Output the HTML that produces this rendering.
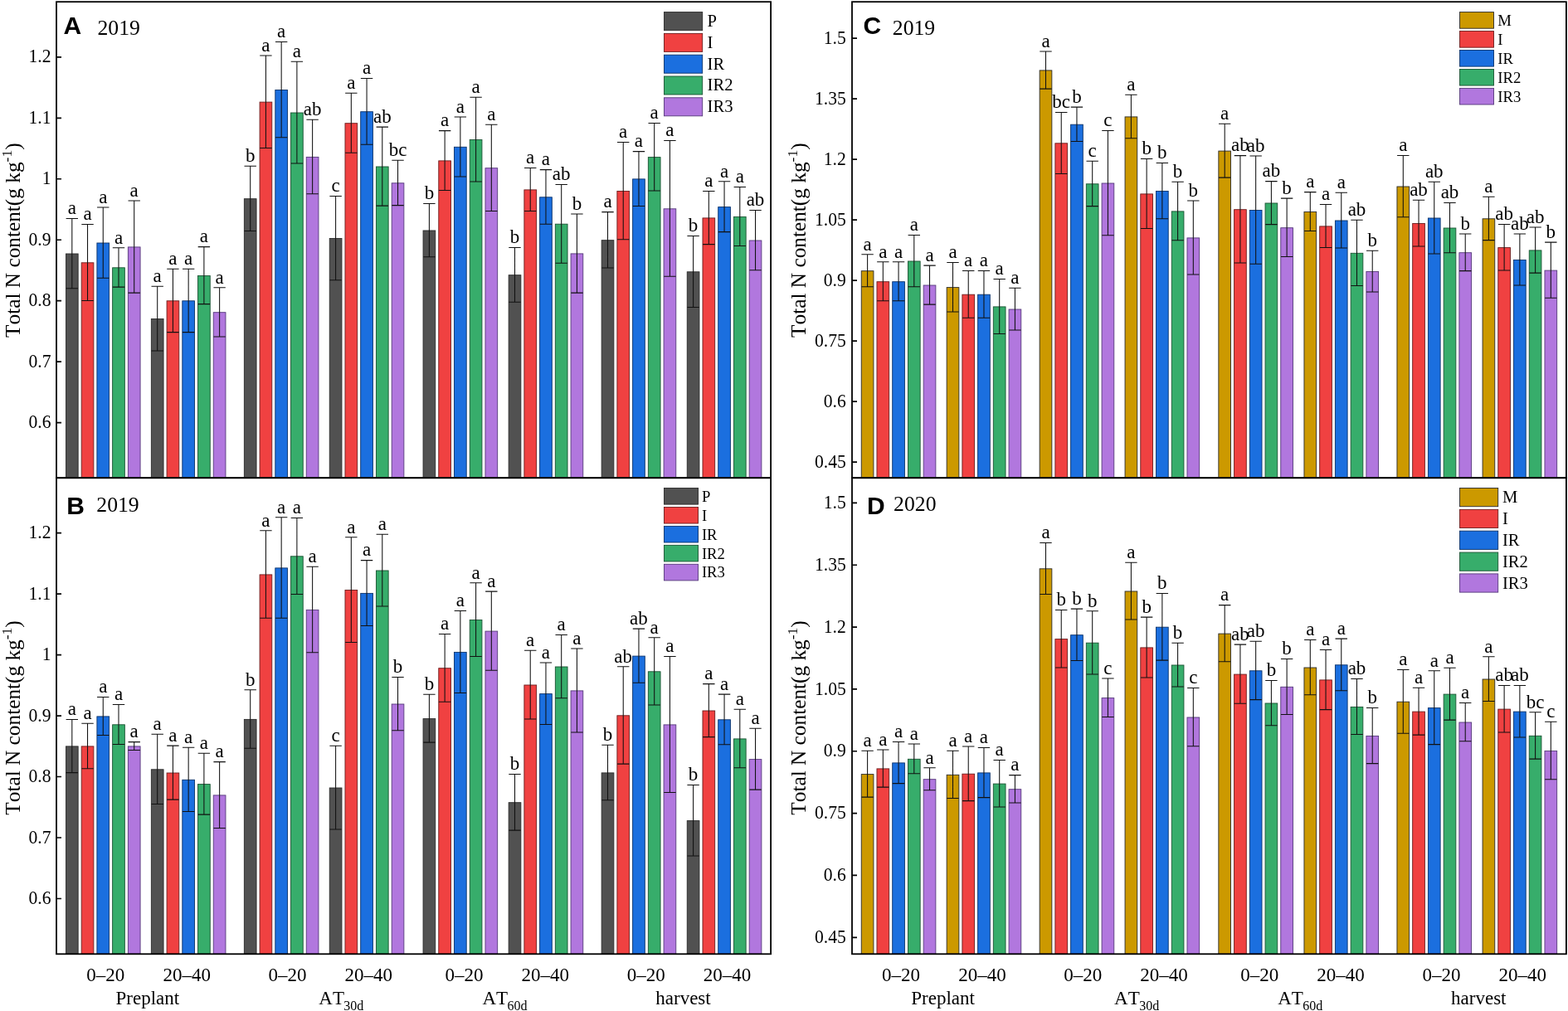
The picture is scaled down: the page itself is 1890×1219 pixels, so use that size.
<!DOCTYPE html>
<html><head><meta charset="utf-8"><title>Total N content</title><style>
html,body{margin:0;padding:0;background:#fff;}
svg{display:block;}
text{font-family:"Liberation Serif","Times New Roman",serif;fill:#000;font-kerning:none;}
.let text{font-size:23px;}
.tick text{font-size:23px;}
.xl text{font-size:23px;}
.leg text{font-family:"Liberation Serif",serif;}
.pl{font-family:"Liberation Sans",Arial,sans-serif;font-weight:bold;font-size:30px;}
.yr{font-size:25.7px;}
.yt{font-size:25.3px;}
</style></head>
<body><svg width="1890" height="1219" viewBox="0 0 1890 1219">
<rect width="1890" height="1219" fill="#fff"/>
<g stroke-width="0.9"><rect x="79.45" y="306" width="14.7" height="270.2" fill="#515151" stroke="#2a2a2a"/><rect x="98.18" y="316.8" width="14.7" height="259.4" fill="#F04141" stroke="#6b1d1d"/><rect x="116.91" y="293" width="14.7" height="283.2" fill="#1B6FDF" stroke="#0c3269"/><rect x="135.64" y="322.8" width="14.7" height="253.4" fill="#37AD6B" stroke="#1a5232"/><rect x="154.37" y="297.9" width="14.7" height="278.3" fill="#B177DE" stroke="#55397a"/><rect x="182.35" y="384.5" width="14.7" height="191.7" fill="#515151" stroke="#2a2a2a"/><rect x="201.08" y="362.8" width="14.7" height="213.4" fill="#F04141" stroke="#6b1d1d"/><rect x="219.81" y="362.8" width="14.7" height="213.4" fill="#1B6FDF" stroke="#0c3269"/><rect x="238.54" y="332.5" width="14.7" height="243.7" fill="#37AD6B" stroke="#1a5232"/><rect x="257.27" y="376.7" width="14.7" height="199.5" fill="#B177DE" stroke="#55397a"/><rect x="294.35" y="239.7" width="14.7" height="336.5" fill="#515151" stroke="#2a2a2a"/><rect x="313.08" y="123.1" width="14.7" height="453.1" fill="#F04141" stroke="#6b1d1d"/><rect x="331.81" y="108.5" width="14.7" height="467.7" fill="#1B6FDF" stroke="#0c3269"/><rect x="350.54" y="136" width="14.7" height="440.2" fill="#37AD6B" stroke="#1a5232"/><rect x="369.27" y="189.4" width="14.7" height="386.8" fill="#B177DE" stroke="#55397a"/><rect x="397.25" y="287.5" width="14.7" height="288.7" fill="#515151" stroke="#2a2a2a"/><rect x="415.98" y="148.7" width="14.7" height="427.5" fill="#F04141" stroke="#6b1d1d"/><rect x="434.71" y="134.7" width="14.7" height="441.5" fill="#1B6FDF" stroke="#0c3269"/><rect x="453.44" y="201" width="14.7" height="375.2" fill="#37AD6B" stroke="#1a5232"/><rect x="472.17" y="220.8" width="14.7" height="355.4" fill="#B177DE" stroke="#55397a"/><rect x="510.05" y="278" width="14.7" height="298.2" fill="#515151" stroke="#2a2a2a"/><rect x="528.78" y="193.9" width="14.7" height="382.3" fill="#F04141" stroke="#6b1d1d"/><rect x="547.51" y="177.3" width="14.7" height="398.9" fill="#1B6FDF" stroke="#0c3269"/><rect x="566.24" y="168.5" width="14.7" height="407.7" fill="#37AD6B" stroke="#1a5232"/><rect x="584.97" y="202.7" width="14.7" height="373.5" fill="#B177DE" stroke="#55397a"/><rect x="613.15" y="331.7" width="14.7" height="244.5" fill="#515151" stroke="#2a2a2a"/><rect x="631.88" y="228.9" width="14.7" height="347.3" fill="#F04141" stroke="#6b1d1d"/><rect x="650.61" y="237.8" width="14.7" height="338.4" fill="#1B6FDF" stroke="#0c3269"/><rect x="669.34" y="270.2" width="14.7" height="306" fill="#37AD6B" stroke="#1a5232"/><rect x="688.07" y="305.9" width="14.7" height="270.3" fill="#B177DE" stroke="#55397a"/><rect x="725.15" y="289.7" width="14.7" height="286.5" fill="#515151" stroke="#2a2a2a"/><rect x="743.88" y="230.5" width="14.7" height="345.7" fill="#F04141" stroke="#6b1d1d"/><rect x="762.61" y="215.9" width="14.7" height="360.3" fill="#1B6FDF" stroke="#0c3269"/><rect x="781.34" y="189.6" width="14.7" height="386.6" fill="#37AD6B" stroke="#1a5232"/><rect x="800.07" y="251.8" width="14.7" height="324.4" fill="#B177DE" stroke="#55397a"/><rect x="828.25" y="327.8" width="14.7" height="248.4" fill="#515151" stroke="#2a2a2a"/><rect x="846.98" y="262.9" width="14.7" height="313.3" fill="#F04141" stroke="#6b1d1d"/><rect x="865.71" y="249.6" width="14.7" height="326.6" fill="#1B6FDF" stroke="#0c3269"/><rect x="884.44" y="261.4" width="14.7" height="314.8" fill="#37AD6B" stroke="#1a5232"/><rect x="903.17" y="290" width="14.7" height="286.2" fill="#B177DE" stroke="#55397a"/></g>
<path fill="none" stroke="#111" stroke-width="1.05" d="M86.8 263.5V347.7M79.6 263.5h14.4M79.6 347.7h14.4M105.53 270.4V362.4M98.33 270.4h14.4M98.33 362.4h14.4M124.26 250V335.2M117.06 250h14.4M117.06 335.2h14.4M142.99 298.7V346.1M135.79 298.7h14.4M135.79 346.1h14.4M161.72 241.9V353.1M154.52 241.9h14.4M154.52 353.1h14.4M189.7 345.3V422.9M182.5 345.3h14.4M182.5 422.9h14.4M208.43 324.2V400.6M201.23 324.2h14.4M201.23 400.6h14.4M227.16 324.2V400.6M219.96 324.2h14.4M219.96 400.6h14.4M245.89 297.6V366.6M238.69 297.6h14.4M238.69 366.6h14.4M264.62 346.7V405.9M257.42 346.7h14.4M257.42 405.9h14.4M301.7 200.2V278.4M294.5 200.2h14.4M294.5 278.4h14.4M320.43 67V178.4M313.23 67h14.4M313.23 178.4h14.4M339.16 50.5V165.7M331.96 50.5h14.4M331.96 165.7h14.4M357.89 74.3V196.9M350.69 74.3h14.4M350.69 196.9h14.4M376.62 144.3V233.7M369.42 144.3h14.4M369.42 233.7h14.4M404.6 236.5V337.7M397.4 236.5h14.4M397.4 337.7h14.4M423.33 112.3V184.3M416.13 112.3h14.4M416.13 184.3h14.4M442.06 94.4V174.2M434.86 94.4h14.4M434.86 174.2h14.4M460.79 153.1V248.1M453.59 153.1h14.4M453.59 248.1h14.4M479.52 193.2V247.6M472.32 193.2h14.4M472.32 247.6h14.4M517.4 245.5V309.7M510.2 245.5h14.4M510.2 309.7h14.4M536.13 157.6V229.4M528.93 157.6h14.4M528.93 229.4h14.4M554.86 140.9V212.9M547.66 140.9h14.4M547.66 212.9h14.4M573.59 117.2V219M566.39 117.2h14.4M566.39 219h14.4M592.32 150.2V254.4M585.12 150.2h14.4M585.12 254.4h14.4M620.5 298.4V364.2M613.3 298.4h14.4M613.3 364.2h14.4M639.23 202.5V254.5M632.03 202.5h14.4M632.03 254.5h14.4M657.96 204.6V270.2M650.76 204.6h14.4M650.76 270.2h14.4M676.69 222.4V317.2M669.49 222.4h14.4M669.49 317.2h14.4M695.42 257.9V353.1M688.22 257.9h14.4M688.22 353.1h14.4M732.5 255.6V323M725.3 255.6h14.4M725.3 323h14.4M751.23 171.4V288.8M744.03 171.4h14.4M744.03 288.8h14.4M769.96 182.6V248.4M762.76 182.6h14.4M762.76 248.4h14.4M788.69 148.4V230M781.49 148.4h14.4M781.49 230h14.4M807.42 169.5V333.3M800.22 169.5h14.4M800.22 333.3h14.4M835.6 284.4V370.4M828.4 284.4h14.4M828.4 370.4h14.4M854.33 230.4V294.6M847.13 230.4h14.4M847.13 294.6h14.4M873.06 218.8V279.6M865.86 218.8h14.4M865.86 279.6h14.4M891.79 225.5V296.5M884.59 225.5h14.4M884.59 296.5h14.4M910.52 253.4V325.8M903.32 253.4h14.4M903.32 325.8h14.4"/>
<g class="let" text-anchor="middle"><text x="86.8" y="258.3">a</text><text x="105.53" y="265.2">a</text><text x="124.26" y="244.8">a</text><text x="142.99" y="293.5">a</text><text x="161.72" y="236.7">a</text><text x="189.7" y="340.1">a</text><text x="208.43" y="319">a</text><text x="227.16" y="319">a</text><text x="245.89" y="292.4">a</text><text x="264.62" y="341.5">a</text><text x="301.7" y="195">b</text><text x="320.43" y="61.8">a</text><text x="339.16" y="45.3">a</text><text x="357.89" y="69.1">a</text><text x="376.62" y="139.1">ab</text><text x="404.6" y="231.3">c</text><text x="423.33" y="107.1">a</text><text x="442.06" y="89.2">a</text><text x="460.79" y="147.9">ab</text><text x="479.52" y="188">bc</text><text x="517.4" y="240.3">b</text><text x="536.13" y="152.4">a</text><text x="554.86" y="135.7">a</text><text x="573.59" y="112">a</text><text x="592.32" y="145">a</text><text x="620.5" y="293.2">b</text><text x="639.23" y="197.3">a</text><text x="657.96" y="199.4">a</text><text x="676.69" y="217.2">ab</text><text x="695.42" y="252.7">b</text><text x="732.5" y="250.4">a</text><text x="751.23" y="166.2">a</text><text x="769.96" y="177.4">a</text><text x="788.69" y="143.2">a</text><text x="807.42" y="164.3">a</text><text x="835.6" y="279.2">b</text><text x="854.33" y="225.2">a</text><text x="873.06" y="213.6">a</text><text x="891.79" y="220.3">a</text><text x="910.52" y="248.2">ab</text></g>
<g stroke-width="0.9"><rect x="79.45" y="899.9" width="14.7" height="250.4" fill="#515151" stroke="#2a2a2a"/><rect x="98.18" y="899.9" width="14.7" height="250.4" fill="#F04141" stroke="#6b1d1d"/><rect x="116.91" y="863.9" width="14.7" height="286.4" fill="#1B6FDF" stroke="#0c3269"/><rect x="135.64" y="873.8" width="14.7" height="276.5" fill="#37AD6B" stroke="#1a5232"/><rect x="154.37" y="899.9" width="14.7" height="250.4" fill="#B177DE" stroke="#55397a"/><rect x="182.35" y="927.8" width="14.7" height="222.5" fill="#515151" stroke="#2a2a2a"/><rect x="201.08" y="932" width="14.7" height="218.3" fill="#F04141" stroke="#6b1d1d"/><rect x="219.81" y="940.3" width="14.7" height="210" fill="#1B6FDF" stroke="#0c3269"/><rect x="238.54" y="945.6" width="14.7" height="204.7" fill="#37AD6B" stroke="#1a5232"/><rect x="257.27" y="958.9" width="14.7" height="191.4" fill="#B177DE" stroke="#55397a"/><rect x="294.35" y="867.4" width="14.7" height="282.9" fill="#515151" stroke="#2a2a2a"/><rect x="313.08" y="692.9" width="14.7" height="457.4" fill="#F04141" stroke="#6b1d1d"/><rect x="331.81" y="684.9" width="14.7" height="465.4" fill="#1B6FDF" stroke="#0c3269"/><rect x="350.54" y="670.8" width="14.7" height="479.5" fill="#37AD6B" stroke="#1a5232"/><rect x="369.27" y="735.4" width="14.7" height="414.9" fill="#B177DE" stroke="#55397a"/><rect x="397.25" y="950" width="14.7" height="200.3" fill="#515151" stroke="#2a2a2a"/><rect x="415.98" y="711.5" width="14.7" height="438.8" fill="#F04141" stroke="#6b1d1d"/><rect x="434.71" y="715.4" width="14.7" height="434.9" fill="#1B6FDF" stroke="#0c3269"/><rect x="453.44" y="688" width="14.7" height="462.3" fill="#37AD6B" stroke="#1a5232"/><rect x="472.17" y="849" width="14.7" height="301.3" fill="#B177DE" stroke="#55397a"/><rect x="510.05" y="866.6" width="14.7" height="283.7" fill="#515151" stroke="#2a2a2a"/><rect x="528.78" y="805.7" width="14.7" height="344.6" fill="#F04141" stroke="#6b1d1d"/><rect x="547.51" y="786.4" width="14.7" height="363.9" fill="#1B6FDF" stroke="#0c3269"/><rect x="566.24" y="747.5" width="14.7" height="402.8" fill="#37AD6B" stroke="#1a5232"/><rect x="584.97" y="761.1" width="14.7" height="389.2" fill="#B177DE" stroke="#55397a"/><rect x="613.15" y="967.7" width="14.7" height="182.6" fill="#515151" stroke="#2a2a2a"/><rect x="631.88" y="826" width="14.7" height="324.3" fill="#F04141" stroke="#6b1d1d"/><rect x="650.61" y="836.6" width="14.7" height="313.7" fill="#1B6FDF" stroke="#0c3269"/><rect x="669.34" y="804" width="14.7" height="346.3" fill="#37AD6B" stroke="#1a5232"/><rect x="688.07" y="832.9" width="14.7" height="317.4" fill="#B177DE" stroke="#55397a"/><rect x="725.15" y="931.9" width="14.7" height="218.4" fill="#515151" stroke="#2a2a2a"/><rect x="743.88" y="862.8" width="14.7" height="287.5" fill="#F04141" stroke="#6b1d1d"/><rect x="762.61" y="791.1" width="14.7" height="359.2" fill="#1B6FDF" stroke="#0c3269"/><rect x="781.34" y="809.8" width="14.7" height="340.5" fill="#37AD6B" stroke="#1a5232"/><rect x="800.07" y="873.9" width="14.7" height="276.4" fill="#B177DE" stroke="#55397a"/><rect x="828.25" y="989.6" width="14.7" height="160.7" fill="#515151" stroke="#2a2a2a"/><rect x="846.98" y="857" width="14.7" height="293.3" fill="#F04141" stroke="#6b1d1d"/><rect x="865.71" y="867.8" width="14.7" height="282.5" fill="#1B6FDF" stroke="#0c3269"/><rect x="884.44" y="890.9" width="14.7" height="259.4" fill="#37AD6B" stroke="#1a5232"/><rect x="903.17" y="915.6" width="14.7" height="234.7" fill="#B177DE" stroke="#55397a"/></g>
<path fill="none" stroke="#111" stroke-width="1.05" d="M86.8 867.4V931.6M79.6 867.4h14.4M79.6 931.6h14.4M105.53 872.3V926.7M98.33 872.3h14.4M98.33 926.7h14.4M124.26 840.5V886.5M117.06 840.5h14.4M117.06 886.5h14.4M142.99 849.4V897.4M135.79 849.4h14.4M135.79 897.4h14.4M161.72 894.6V904.4M154.52 894.6h14.4M154.52 904.4h14.4M189.7 885.3V969.5M182.5 885.3h14.4M182.5 969.5h14.4M208.43 899.1V964.1M201.23 899.1h14.4M201.23 964.1h14.4M227.16 901.3V978.5M219.96 901.3h14.4M219.96 978.5h14.4M245.89 908.3V982.1M238.69 908.3h14.4M238.69 982.1h14.4M264.62 918.6V998.4M257.42 918.6h14.4M257.42 998.4h14.4M301.7 831.8V902.2M294.5 831.8h14.4M294.5 902.2h14.4M320.43 639.7V745.3M313.23 639.7h14.4M313.23 745.3h14.4M339.16 623.7V745.3M331.96 623.7h14.4M331.96 745.3h14.4M357.89 624.4V716.4M350.69 624.4h14.4M350.69 716.4h14.4M376.62 683.3V786.7M369.42 683.3h14.4M369.42 786.7h14.4M404.6 899.2V1000M397.4 899.2h14.4M397.4 1000h14.4M423.33 647.7V774.5M416.13 647.7h14.4M416.13 774.5h14.4M442.06 675.6V754.4M434.86 675.6h14.4M434.86 754.4h14.4M460.79 644.3V730.9M453.59 644.3h14.4M453.59 730.9h14.4M479.52 816.5V880.7M472.32 816.5h14.4M472.32 880.7h14.4M517.4 837.3V895.1M510.2 837.3h14.4M510.2 895.1h14.4M536.13 764.4V846.2M528.93 764.4h14.4M528.93 846.2h14.4M554.86 736.5V835.5M547.66 736.5h14.4M547.66 835.5h14.4M573.59 702.8V791.4M566.39 702.8h14.4M566.39 791.4h14.4M592.32 713.1V808.3M585.12 713.1h14.4M585.12 808.3h14.4M620.5 933.5V1001.1M613.3 933.5h14.4M613.3 1001.1h14.4M639.23 784.3V866.9M632.03 784.3h14.4M632.03 866.9h14.4M657.96 799V873.4M650.76 799h14.4M650.76 873.4h14.4M676.69 765.5V841.7M669.49 765.5h14.4M669.49 841.7h14.4M695.42 782V883M688.22 782h14.4M688.22 883h14.4M732.5 898.3V964.7M725.3 898.3h14.4M725.3 964.7h14.4M751.23 803.7V921.1M744.03 803.7h14.4M744.03 921.1h14.4M769.96 758.1V823.3M762.76 758.1h14.4M762.76 823.3h14.4M788.69 768.8V850M781.49 768.8h14.4M781.49 850h14.4M807.42 791.5V955.5M800.22 791.5h14.4M800.22 955.5h14.4M835.6 946.4V1032M828.4 946.4h14.4M828.4 1032h14.4M854.33 824.6V888.6M847.13 824.6h14.4M847.13 888.6h14.4M873.06 837.1V897.7M865.86 837.1h14.4M865.86 897.7h14.4M891.79 855.3V925.7M884.59 855.3h14.4M884.59 925.7h14.4M910.52 878.3V952.1M903.32 878.3h14.4M903.32 952.1h14.4"/>
<g class="let" text-anchor="middle"><text x="86.8" y="862.2">a</text><text x="105.53" y="867.1">a</text><text x="124.26" y="835.3">a</text><text x="142.99" y="844.2">a</text><text x="161.72" y="889.4">a</text><text x="189.7" y="880.1">a</text><text x="208.43" y="893.9">a</text><text x="227.16" y="896.1">a</text><text x="245.89" y="903.1">a</text><text x="264.62" y="913.4">a</text><text x="301.7" y="826.6">b</text><text x="320.43" y="634.5">a</text><text x="339.16" y="618.5">a</text><text x="357.89" y="619.2">a</text><text x="376.62" y="678.1">a</text><text x="404.6" y="894">c</text><text x="423.33" y="642.5">a</text><text x="442.06" y="670.4">a</text><text x="460.79" y="639.1">a</text><text x="479.52" y="811.3">b</text><text x="517.4" y="832.1">b</text><text x="536.13" y="759.2">a</text><text x="554.86" y="731.3">a</text><text x="573.59" y="697.6">a</text><text x="592.32" y="707.9">a</text><text x="620.5" y="928.3">b</text><text x="639.23" y="779.1">a</text><text x="657.96" y="793.8">a</text><text x="676.69" y="760.3">a</text><text x="695.42" y="776.8">a</text><text x="732.5" y="893.1">b</text><text x="751.23" y="798.5">ab</text><text x="769.96" y="752.9">ab</text><text x="788.69" y="763.6">a</text><text x="807.42" y="786.3">a</text><text x="835.6" y="941.2">b</text><text x="854.33" y="819.4">a</text><text x="873.06" y="831.9">a</text><text x="891.79" y="850.1">a</text><text x="910.52" y="873.1">a</text></g>
<g stroke-width="0.9"><rect x="1038.25" y="326.7" width="14.7" height="249.5" fill="#CC9900" stroke="#2a2a2a"/><rect x="1056.98" y="339.7" width="14.7" height="236.5" fill="#F04141" stroke="#6b1d1d"/><rect x="1075.71" y="339.7" width="14.7" height="236.5" fill="#1B6FDF" stroke="#0c3269"/><rect x="1094.44" y="315" width="14.7" height="261.2" fill="#37AD6B" stroke="#1a5232"/><rect x="1113.17" y="344" width="14.7" height="232.2" fill="#B177DE" stroke="#55397a"/><rect x="1141.15" y="346.6" width="14.7" height="229.6" fill="#CC9900" stroke="#2a2a2a"/><rect x="1159.88" y="355.2" width="14.7" height="221" fill="#F04141" stroke="#6b1d1d"/><rect x="1178.61" y="355.2" width="14.7" height="221" fill="#1B6FDF" stroke="#0c3269"/><rect x="1197.34" y="369.9" width="14.7" height="206.3" fill="#37AD6B" stroke="#1a5232"/><rect x="1216.07" y="373" width="14.7" height="203.2" fill="#B177DE" stroke="#55397a"/><rect x="1253.15" y="84.9" width="14.7" height="491.3" fill="#CC9900" stroke="#2a2a2a"/><rect x="1271.88" y="172.8" width="14.7" height="403.4" fill="#F04141" stroke="#6b1d1d"/><rect x="1290.61" y="150.2" width="14.7" height="426" fill="#1B6FDF" stroke="#0c3269"/><rect x="1309.34" y="221.8" width="14.7" height="354.4" fill="#37AD6B" stroke="#1a5232"/><rect x="1328.07" y="221" width="14.7" height="355.2" fill="#B177DE" stroke="#55397a"/><rect x="1356.05" y="140.9" width="14.7" height="435.3" fill="#CC9900" stroke="#2a2a2a"/><rect x="1374.78" y="233.9" width="14.7" height="342.3" fill="#F04141" stroke="#6b1d1d"/><rect x="1393.51" y="230.5" width="14.7" height="345.7" fill="#1B6FDF" stroke="#0c3269"/><rect x="1412.24" y="254.9" width="14.7" height="321.3" fill="#37AD6B" stroke="#1a5232"/><rect x="1430.97" y="286.9" width="14.7" height="289.3" fill="#B177DE" stroke="#55397a"/><rect x="1468.85" y="182.1" width="14.7" height="394.1" fill="#CC9900" stroke="#2a2a2a"/><rect x="1487.58" y="252.7" width="14.7" height="323.5" fill="#F04141" stroke="#6b1d1d"/><rect x="1506.31" y="253.5" width="14.7" height="322.7" fill="#1B6FDF" stroke="#0c3269"/><rect x="1525.04" y="245" width="14.7" height="331.2" fill="#37AD6B" stroke="#1a5232"/><rect x="1543.77" y="274.7" width="14.7" height="301.5" fill="#B177DE" stroke="#55397a"/><rect x="1571.95" y="255.4" width="14.7" height="320.8" fill="#CC9900" stroke="#2a2a2a"/><rect x="1590.68" y="272.9" width="14.7" height="303.3" fill="#F04141" stroke="#6b1d1d"/><rect x="1609.41" y="266" width="14.7" height="310.2" fill="#1B6FDF" stroke="#0c3269"/><rect x="1628.14" y="305.3" width="14.7" height="270.9" fill="#37AD6B" stroke="#1a5232"/><rect x="1646.87" y="327.5" width="14.7" height="248.7" fill="#B177DE" stroke="#55397a"/><rect x="1683.95" y="225" width="14.7" height="351.2" fill="#CC9900" stroke="#2a2a2a"/><rect x="1702.68" y="269.5" width="14.7" height="306.7" fill="#F04141" stroke="#6b1d1d"/><rect x="1721.41" y="263" width="14.7" height="313.2" fill="#1B6FDF" stroke="#0c3269"/><rect x="1740.14" y="275" width="14.7" height="301.2" fill="#37AD6B" stroke="#1a5232"/><rect x="1758.87" y="304.7" width="14.7" height="271.5" fill="#B177DE" stroke="#55397a"/><rect x="1787.05" y="263.8" width="14.7" height="312.4" fill="#CC9900" stroke="#2a2a2a"/><rect x="1805.78" y="298.6" width="14.7" height="277.6" fill="#F04141" stroke="#6b1d1d"/><rect x="1824.51" y="313.4" width="14.7" height="262.8" fill="#1B6FDF" stroke="#0c3269"/><rect x="1843.24" y="301.9" width="14.7" height="274.3" fill="#37AD6B" stroke="#1a5232"/><rect x="1861.97" y="326.1" width="14.7" height="250.1" fill="#B177DE" stroke="#55397a"/></g>
<path fill="none" stroke="#111" stroke-width="1.05" d="M1045.6 306.8V345.8M1038.4 306.8h14.4M1038.4 345.8h14.4M1064.33 315.8V362.8M1057.13 315.8h14.4M1057.13 362.8h14.4M1083.06 315.8V362.8M1075.86 315.8h14.4M1075.86 362.8h14.4M1101.79 283.5V345.7M1094.59 283.5h14.4M1094.59 345.7h14.4M1120.52 320.1V367.1M1113.32 320.1h14.4M1113.32 367.1h14.4M1148.5 316.5V375.9M1141.3 316.5h14.4M1141.3 375.9h14.4M1167.23 326.4V383.2M1160.03 326.4h14.4M1160.03 383.2h14.4M1185.96 326.4V383.2M1178.76 326.4h14.4M1178.76 383.2h14.4M1204.69 336.5V402.5M1197.49 336.5h14.4M1197.49 402.5h14.4M1223.42 347.3V397.9M1216.22 347.3h14.4M1216.22 397.9h14.4M1260.5 61.9V107.1M1253.3 61.9h14.4M1253.3 107.1h14.4M1279.23 135.4V209.4M1272.03 135.4h14.4M1272.03 209.4h14.4M1297.96 129.1V170.5M1290.76 129.1h14.4M1290.76 170.5h14.4M1316.69 194.2V248.6M1309.49 194.2h14.4M1309.49 248.6h14.4M1335.42 157.4V283.8M1328.22 157.4h14.4M1328.22 283.8h14.4M1363.4 114.2V166.8M1356.2 114.2h14.4M1356.2 166.8h14.4M1382.13 191.5V275.5M1374.93 191.5h14.4M1374.93 275.5h14.4M1400.86 196.5V263.7M1393.66 196.5h14.4M1393.66 263.7h14.4M1419.59 219.3V289.7M1412.39 219.3h14.4M1412.39 289.7h14.4M1438.32 242V331M1431.12 242h14.4M1431.12 331h14.4M1476.2 149.3V214.1M1469 149.3h14.4M1469 214.1h14.4M1494.93 187.6V317M1487.73 187.6h14.4M1487.73 317h14.4M1513.66 187.9V318.3M1506.46 187.9h14.4M1506.46 318.3h14.4M1532.39 218.6V270.6M1525.19 218.6h14.4M1525.19 270.6h14.4M1551.12 239.1V309.5M1543.92 239.1h14.4M1543.92 309.5h14.4M1579.3 231.6V278.4M1572.1 231.6h14.4M1572.1 278.4h14.4M1598.03 246.5V298.5M1590.83 246.5h14.4M1590.83 298.5h14.4M1616.76 232.3V298.9M1609.56 232.3h14.4M1609.56 298.9h14.4M1635.49 265.3V344.5M1628.29 265.3h14.4M1628.29 344.5h14.4M1654.22 302.2V352M1647.02 302.2h14.4M1647.02 352h14.4M1691.3 187.4V261.8M1684.1 187.4h14.4M1684.1 261.8h14.4M1710.03 241.3V296.9M1702.83 241.3h14.4M1702.83 296.9h14.4M1728.76 219.3V305.9M1721.56 219.3h14.4M1721.56 305.9h14.4M1747.49 244.4V304.8M1740.29 244.4h14.4M1740.29 304.8h14.4M1766.22 282V326.6M1759.02 282h14.4M1759.02 326.6h14.4M1794.4 237.2V289.6M1787.2 237.2h14.4M1787.2 289.6h14.4M1813.13 270.4V326M1805.93 270.4h14.4M1805.93 326h14.4M1831.86 282V344M1824.66 282h14.4M1824.66 344h14.4M1850.59 273.9V329.1M1843.39 273.9h14.4M1843.39 329.1h14.4M1869.32 292.1V359.3M1862.12 292.1h14.4M1862.12 359.3h14.4"/>
<g class="let" text-anchor="middle"><text x="1045.6" y="301.6">a</text><text x="1064.33" y="310.6">a</text><text x="1083.06" y="310.6">a</text><text x="1101.79" y="278.3">a</text><text x="1120.52" y="314.9">a</text><text x="1148.5" y="311.3">a</text><text x="1167.23" y="321.2">a</text><text x="1185.96" y="321.2">a</text><text x="1204.69" y="331.3">a</text><text x="1223.42" y="342.1">a</text><text x="1260.5" y="56.7">a</text><text x="1279.23" y="130.2">bc</text><text x="1297.96" y="123.9">b</text><text x="1316.69" y="189">c</text><text x="1335.42" y="152.2">c</text><text x="1363.4" y="109">a</text><text x="1382.13" y="186.3">b</text><text x="1400.86" y="191.3">b</text><text x="1419.59" y="214.1">b</text><text x="1438.32" y="236.8">b</text><text x="1476.2" y="144.1">a</text><text x="1494.93" y="182.4">ab</text><text x="1513.66" y="182.7">ab</text><text x="1532.39" y="213.4">ab</text><text x="1551.12" y="233.9">b</text><text x="1579.3" y="226.4">a</text><text x="1598.03" y="241.3">a</text><text x="1616.76" y="227.1">a</text><text x="1635.49" y="260.1">ab</text><text x="1654.22" y="297">b</text><text x="1691.3" y="182.2">a</text><text x="1710.03" y="236.1">ab</text><text x="1728.76" y="214.1">ab</text><text x="1747.49" y="239.2">ab</text><text x="1766.22" y="276.8">b</text><text x="1794.4" y="232">a</text><text x="1813.13" y="265.2">ab</text><text x="1831.86" y="276.8">ab</text><text x="1850.59" y="268.7">ab</text><text x="1869.32" y="286.9">b</text></g>
<g stroke-width="0.9"><rect x="1038.25" y="933.6" width="14.7" height="216.7" fill="#CC9900" stroke="#2a2a2a"/><rect x="1056.98" y="926.9" width="14.7" height="223.4" fill="#F04141" stroke="#6b1d1d"/><rect x="1075.71" y="919.9" width="14.7" height="230.4" fill="#1B6FDF" stroke="#0c3269"/><rect x="1094.44" y="915.3" width="14.7" height="235" fill="#37AD6B" stroke="#1a5232"/><rect x="1113.17" y="939.7" width="14.7" height="210.6" fill="#B177DE" stroke="#55397a"/><rect x="1141.15" y="934.3" width="14.7" height="216" fill="#CC9900" stroke="#2a2a2a"/><rect x="1159.88" y="933.2" width="14.7" height="217.1" fill="#F04141" stroke="#6b1d1d"/><rect x="1178.61" y="931.9" width="14.7" height="218.4" fill="#1B6FDF" stroke="#0c3269"/><rect x="1197.34" y="945.1" width="14.7" height="205.2" fill="#37AD6B" stroke="#1a5232"/><rect x="1216.07" y="951.7" width="14.7" height="198.6" fill="#B177DE" stroke="#55397a"/><rect x="1253.15" y="685.8" width="14.7" height="464.5" fill="#CC9900" stroke="#2a2a2a"/><rect x="1271.88" y="770.6" width="14.7" height="379.7" fill="#F04141" stroke="#6b1d1d"/><rect x="1290.61" y="765.7" width="14.7" height="384.6" fill="#1B6FDF" stroke="#0c3269"/><rect x="1309.34" y="775.2" width="14.7" height="375.1" fill="#37AD6B" stroke="#1a5232"/><rect x="1328.07" y="841.6" width="14.7" height="308.7" fill="#B177DE" stroke="#55397a"/><rect x="1356.05" y="713" width="14.7" height="437.3" fill="#CC9900" stroke="#2a2a2a"/><rect x="1374.78" y="780.9" width="14.7" height="369.4" fill="#F04141" stroke="#6b1d1d"/><rect x="1393.51" y="756.2" width="14.7" height="394.1" fill="#1B6FDF" stroke="#0c3269"/><rect x="1412.24" y="802" width="14.7" height="348.3" fill="#37AD6B" stroke="#1a5232"/><rect x="1430.97" y="865" width="14.7" height="285.3" fill="#B177DE" stroke="#55397a"/><rect x="1468.85" y="764.1" width="14.7" height="386.2" fill="#CC9900" stroke="#2a2a2a"/><rect x="1487.58" y="813.1" width="14.7" height="337.2" fill="#F04141" stroke="#6b1d1d"/><rect x="1506.31" y="808.8" width="14.7" height="341.5" fill="#1B6FDF" stroke="#0c3269"/><rect x="1525.04" y="848" width="14.7" height="302.3" fill="#37AD6B" stroke="#1a5232"/><rect x="1543.77" y="828.3" width="14.7" height="322" fill="#B177DE" stroke="#55397a"/><rect x="1571.95" y="805" width="14.7" height="345.3" fill="#CC9900" stroke="#2a2a2a"/><rect x="1590.68" y="819.9" width="14.7" height="330.4" fill="#F04141" stroke="#6b1d1d"/><rect x="1609.41" y="801.8" width="14.7" height="348.5" fill="#1B6FDF" stroke="#0c3269"/><rect x="1628.14" y="852.4" width="14.7" height="297.9" fill="#37AD6B" stroke="#1a5232"/><rect x="1646.87" y="887.4" width="14.7" height="262.9" fill="#B177DE" stroke="#55397a"/><rect x="1683.95" y="846.2" width="14.7" height="304.1" fill="#CC9900" stroke="#2a2a2a"/><rect x="1702.68" y="858.1" width="14.7" height="292.2" fill="#F04141" stroke="#6b1d1d"/><rect x="1721.41" y="853.6" width="14.7" height="296.7" fill="#1B6FDF" stroke="#0c3269"/><rect x="1740.14" y="837.1" width="14.7" height="313.2" fill="#37AD6B" stroke="#1a5232"/><rect x="1758.87" y="871" width="14.7" height="279.3" fill="#B177DE" stroke="#55397a"/><rect x="1787.05" y="819" width="14.7" height="331.3" fill="#CC9900" stroke="#2a2a2a"/><rect x="1805.78" y="855.1" width="14.7" height="295.2" fill="#F04141" stroke="#6b1d1d"/><rect x="1824.51" y="858.1" width="14.7" height="292.2" fill="#1B6FDF" stroke="#0c3269"/><rect x="1843.24" y="887.3" width="14.7" height="263" fill="#37AD6B" stroke="#1a5232"/><rect x="1861.97" y="905.4" width="14.7" height="244.9" fill="#B177DE" stroke="#55397a"/></g>
<path fill="none" stroke="#111" stroke-width="1.05" d="M1045.6 905.3V961.1M1038.4 905.3h14.4M1038.4 961.1h14.4M1064.33 903.9V949.1M1057.13 903.9h14.4M1057.13 949.1h14.4M1083.06 894.4V944.6M1075.86 894.4h14.4M1075.86 944.6h14.4M1101.79 897V932.8M1094.59 897h14.4M1094.59 932.8h14.4M1120.52 925.8V952.8M1113.32 925.8h14.4M1113.32 952.8h14.4M1148.5 905.3V962.5M1141.3 905.3h14.4M1141.3 962.5h14.4M1167.23 900V965.6M1160.03 900h14.4M1160.03 965.6h14.4M1185.96 901.4V961.6M1178.76 901.4h14.4M1178.76 961.6h14.4M1204.69 916.5V972.9M1197.49 916.5h14.4M1197.49 972.9h14.4M1223.42 934.6V968M1216.22 934.6h14.4M1216.22 968h14.4M1260.5 654.4V716.4M1253.3 654.4h14.4M1253.3 716.4h14.4M1279.23 735.5V804.9M1272.03 735.5h14.4M1272.03 804.9h14.4M1297.96 734.1V796.5M1290.76 734.1h14.4M1290.76 796.5h14.4M1316.69 736.7V812.9M1309.49 736.7h14.4M1309.49 812.9h14.4M1335.42 817.9V864.5M1328.22 817.9h14.4M1328.22 864.5h14.4M1363.4 678.3V746.9M1356.2 678.3h14.4M1356.2 746.9h14.4M1382.13 744.1V816.9M1374.93 744.1h14.4M1374.93 816.9h14.4M1400.86 715.5V796.1M1393.66 715.5h14.4M1393.66 796.1h14.4M1419.59 775.3V827.9M1412.39 775.3h14.4M1412.39 827.9h14.4M1438.32 829.4V899.8M1431.12 829.4h14.4M1431.12 899.8h14.4M1476.2 729.6V797.8M1469 729.6h14.4M1469 797.8h14.4M1494.93 777.1V848.3M1487.73 777.1h14.4M1487.73 848.3h14.4M1513.66 773.2V843.6M1506.46 773.2h14.4M1506.46 843.6h14.4M1532.39 820.4V874.8M1525.19 820.4h14.4M1525.19 874.8h14.4M1551.12 794.4V861.4M1543.92 794.4h14.4M1543.92 861.4h14.4M1579.3 771.4V837.8M1572.1 771.4h14.4M1572.1 837.8h14.4M1598.03 783.4V855.6M1590.83 783.4h14.4M1590.83 855.6h14.4M1616.76 770.1V832.7M1609.56 770.1h14.4M1609.56 832.7h14.4M1635.49 818.5V885.5M1628.29 818.5h14.4M1628.29 885.5h14.4M1654.22 853.4V920.6M1647.02 853.4h14.4M1647.02 920.6h14.4M1691.3 807.4V884.2M1684.1 807.4h14.4M1684.1 884.2h14.4M1710.03 829.3V886.1M1702.83 829.3h14.4M1702.83 886.1h14.4M1728.76 808.8V897.6M1721.56 808.8h14.4M1721.56 897.6h14.4M1747.49 805.3V868.1M1740.29 805.3h14.4M1740.29 868.1h14.4M1766.22 847.4V893.8M1759.02 847.4h14.4M1759.02 893.8h14.4M1794.4 791.7V845.5M1787.2 791.7h14.4M1787.2 845.5h14.4M1813.13 826.5V882.9M1805.93 826.5h14.4M1805.93 882.9h14.4M1831.86 826.5V888.9M1824.66 826.5h14.4M1824.66 888.9h14.4M1850.59 858.7V915.1M1843.39 858.7h14.4M1843.39 915.1h14.4M1869.32 870.2V939.8M1862.12 870.2h14.4M1862.12 939.8h14.4"/>
<g class="let" text-anchor="middle"><text x="1045.6" y="900.1">a</text><text x="1064.33" y="898.7">a</text><text x="1083.06" y="889.2">a</text><text x="1101.79" y="891.8">a</text><text x="1120.52" y="920.6">a</text><text x="1148.5" y="900.1">a</text><text x="1167.23" y="894.8">a</text><text x="1185.96" y="896.2">a</text><text x="1204.69" y="911.3">a</text><text x="1223.42" y="929.4">a</text><text x="1260.5" y="649.2">a</text><text x="1279.23" y="730.3">b</text><text x="1297.96" y="728.9">b</text><text x="1316.69" y="731.5">b</text><text x="1335.42" y="812.7">c</text><text x="1363.4" y="673.1">a</text><text x="1382.13" y="738.9">b</text><text x="1400.86" y="710.3">b</text><text x="1419.59" y="770.1">b</text><text x="1438.32" y="824.2">c</text><text x="1476.2" y="724.4">a</text><text x="1494.93" y="771.9">ab</text><text x="1513.66" y="768">ab</text><text x="1532.39" y="815.2">b</text><text x="1551.12" y="789.2">b</text><text x="1579.3" y="766.2">a</text><text x="1598.03" y="778.2">a</text><text x="1616.76" y="764.9">a</text><text x="1635.49" y="813.3">ab</text><text x="1654.22" y="848.2">b</text><text x="1691.3" y="802.2">a</text><text x="1710.03" y="824.1">a</text><text x="1728.76" y="803.6">a</text><text x="1747.49" y="800.1">a</text><text x="1766.22" y="842.2">a</text><text x="1794.4" y="786.5">a</text><text x="1813.13" y="821.3">ab</text><text x="1831.86" y="821.3">ab</text><text x="1850.59" y="853.5">bc</text><text x="1869.32" y="865">c</text></g>
<g class="leg"><rect x="800.5" y="14.6" width="46.2" height="22" fill="#515151" stroke="#2a2a2a" stroke-width="0.9"/><text x="852.6" y="32" font-size="20.6">P</text><rect x="800.5" y="40.4" width="46.2" height="22" fill="#F04141" stroke="#6b1d1d" stroke-width="0.9"/><text x="852.6" y="57.8" font-size="20.6">I</text><rect x="800.5" y="66.2" width="46.2" height="22" fill="#1B6FDF" stroke="#0c3269" stroke-width="0.9"/><text x="852.6" y="83.6" font-size="20.6">IR</text><rect x="800.5" y="92" width="46.2" height="22" fill="#37AD6B" stroke="#1a5232" stroke-width="0.9"/><text x="852.6" y="109.4" font-size="20.6">IR2</text><rect x="800.5" y="117.8" width="46.2" height="22" fill="#B177DE" stroke="#55397a" stroke-width="0.9"/><text x="852.6" y="135.2" font-size="20.6">IR3</text></g>
<g class="leg"><rect x="800.5" y="588.5" width="41" height="19.6" fill="#515151" stroke="#2a2a2a" stroke-width="0.9"/><text x="845.9" y="604.66" font-size="18.7">P</text><rect x="800.5" y="611.45" width="41" height="19.6" fill="#F04141" stroke="#6b1d1d" stroke-width="0.9"/><text x="845.9" y="627.61" font-size="18.7">I</text><rect x="800.5" y="634.4" width="41" height="19.6" fill="#1B6FDF" stroke="#0c3269" stroke-width="0.9"/><text x="845.9" y="650.56" font-size="18.7">IR</text><rect x="800.5" y="657.35" width="41" height="19.6" fill="#37AD6B" stroke="#1a5232" stroke-width="0.9"/><text x="845.9" y="673.51" font-size="18.7">IR2</text><rect x="800.5" y="680.3" width="41" height="19.6" fill="#B177DE" stroke="#55397a" stroke-width="0.9"/><text x="845.9" y="696.46" font-size="18.7">IR3</text></g>
<g class="leg"><rect x="1759.5" y="14.6" width="41" height="19.6" fill="#CC9900" stroke="#2a2a2a" stroke-width="0.9"/><text x="1805.2" y="30.76" font-size="18.7">M</text><rect x="1759.5" y="37.55" width="41" height="19.6" fill="#F04141" stroke="#6b1d1d" stroke-width="0.9"/><text x="1805.2" y="53.71" font-size="18.7">I</text><rect x="1759.5" y="60.5" width="41" height="19.6" fill="#1B6FDF" stroke="#0c3269" stroke-width="0.9"/><text x="1805.2" y="76.66" font-size="18.7">IR</text><rect x="1759.5" y="83.45" width="41" height="19.6" fill="#37AD6B" stroke="#1a5232" stroke-width="0.9"/><text x="1805.2" y="99.61" font-size="18.7">IR2</text><rect x="1759.5" y="106.4" width="41" height="19.6" fill="#B177DE" stroke="#55397a" stroke-width="0.9"/><text x="1805.2" y="122.56" font-size="18.7">IR3</text></g>
<g class="leg"><rect x="1759.5" y="588.5" width="46.2" height="22.2" fill="#CC9900" stroke="#2a2a2a" stroke-width="0.9"/><text x="1811" y="606.3" font-size="20.6">M</text><rect x="1759.5" y="614.35" width="46.2" height="22.2" fill="#F04141" stroke="#6b1d1d" stroke-width="0.9"/><text x="1811" y="632.15" font-size="20.6">I</text><rect x="1759.5" y="640.2" width="46.2" height="22.2" fill="#1B6FDF" stroke="#0c3269" stroke-width="0.9"/><text x="1811" y="658" font-size="20.6">IR</text><rect x="1759.5" y="666.05" width="46.2" height="22.2" fill="#37AD6B" stroke="#1a5232" stroke-width="0.9"/><text x="1811" y="683.85" font-size="20.6">IR2</text><rect x="1759.5" y="691.9" width="46.2" height="22.2" fill="#B177DE" stroke="#55397a" stroke-width="0.9"/><text x="1811" y="709.7" font-size="20.6">IR3</text></g>
<rect x="68" y="2.2" width="861.1" height="574" fill="none" stroke="#000" stroke-width="1.8"/>
<rect x="68" y="576.2" width="861.1" height="574.1" fill="none" stroke="#000" stroke-width="1.8"/>
<rect x="1027" y="2.2" width="860.9" height="574" fill="none" stroke="#000" stroke-width="1.8"/>
<rect x="1027" y="576.2" width="860.9" height="574.1" fill="none" stroke="#000" stroke-width="1.8"/>
<path stroke="#000" stroke-width="1.7" d="M68 509.68h6M68 436.2h6M68 362.72h6M68 289.24h6M68 215.76h6M68 142.28h6M68 68.8h6"/>
<g class="tick" text-anchor="end"><text transform="translate(61.5 516.28) scale(0.94 1)">0.6</text><text transform="translate(61.5 442.8) scale(0.94 1)">0.7</text><text transform="translate(61.5 369.32) scale(0.94 1)">0.8</text><text transform="translate(61.5 295.84) scale(0.94 1)">0.9</text><text transform="translate(61.5 222.36) scale(0.94 1)">1</text><text transform="translate(61.5 148.88) scale(0.94 1)">1.1</text><text transform="translate(61.5 75.4) scale(0.94 1)">1.2</text></g>
<path stroke="#000" stroke-width="1.7" d="M68 1083.48h6M68 1010h6M68 936.52h6M68 863.04h6M68 789.56h6M68 716.08h6M68 642.6h6"/>
<g class="tick" text-anchor="end"><text transform="translate(61.5 1090.08) scale(0.94 1)">0.6</text><text transform="translate(61.5 1016.6) scale(0.94 1)">0.7</text><text transform="translate(61.5 943.12) scale(0.94 1)">0.8</text><text transform="translate(61.5 869.64) scale(0.94 1)">0.9</text><text transform="translate(61.5 796.16) scale(0.94 1)">1</text><text transform="translate(61.5 722.68) scale(0.94 1)">1.1</text><text transform="translate(61.5 649.2) scale(0.94 1)">1.2</text></g>
<path stroke="#000" stroke-width="1.7" d="M1027 557.03h6M1027 484.04h6M1027 411.05h6M1027 338.06h6M1027 265.07h6M1027 192.08h6M1027 119.09h6M1027 46.1h6"/>
<g class="tick" text-anchor="end"><text transform="translate(1019.8 563.63) scale(0.94 1)">0.45</text><text transform="translate(1019.8 490.64) scale(0.94 1)">0.6</text><text transform="translate(1019.8 417.65) scale(0.94 1)">0.75</text><text transform="translate(1019.8 344.66) scale(0.94 1)">0.9</text><text transform="translate(1019.8 271.67) scale(0.94 1)">1.05</text><text transform="translate(1019.8 198.68) scale(0.94 1)">1.2</text><text transform="translate(1019.8 125.69) scale(0.94 1)">1.35</text><text transform="translate(1019.8 52.7) scale(0.94 1)">1.5</text></g>
<path stroke="#000" stroke-width="1.7" d="M1027 1130.28h6M1027 1055.44h6M1027 980.6h6M1027 905.76h6M1027 830.92h6M1027 756.08h6M1027 681.24h6M1027 606.4h6"/>
<g class="tick" text-anchor="end"><text transform="translate(1019.8 1136.88) scale(0.94 1)">0.45</text><text transform="translate(1019.8 1062.04) scale(0.94 1)">0.6</text><text transform="translate(1019.8 987.2) scale(0.94 1)">0.75</text><text transform="translate(1019.8 912.36) scale(0.94 1)">0.9</text><text transform="translate(1019.8 837.52) scale(0.94 1)">1.05</text><text transform="translate(1019.8 762.68) scale(0.94 1)">1.2</text><text transform="translate(1019.8 687.84) scale(0.94 1)">1.35</text><text transform="translate(1019.8 613) scale(0.94 1)">1.5</text></g>
<text class="pl" transform="translate(76.5 40.9) ">A</text>
<text class="yr" x="117.5" y="42.3">2019</text>
<text class="pl" transform="translate(80.3 619.8) ">B</text>
<text class="yr" x="116.3" y="616.5">2019</text>
<text class="pl" transform="translate(1040.6 40.9) ">C</text>
<text class="yr" x="1075.8" y="42.1">2019</text>
<text class="pl" transform="translate(1045 619.7) ">D</text>
<text class="yr" x="1077.1" y="616.2">2020</text>
<text class="yt" transform="translate(24.2 406.9) rotate(-90)">Total N content(g kg<tspan dy="-10.3" font-size="17.5">-1</tspan><tspan dy="10.3">)</tspan></text>
<text class="yt" transform="translate(24.2 982.7) rotate(-90)">Total N content(g kg<tspan dy="-10.3" font-size="17.5">-1</tspan><tspan dy="10.3">)</tspan></text>
<text class="yt" transform="translate(971 406.9) rotate(-90)">Total N content(g kg<tspan dy="-10.3" font-size="17.5">-1</tspan><tspan dy="10.3">)</tspan></text>
<text class="yt" transform="translate(971 982.7) rotate(-90)">Total N content(g kg<tspan dy="-10.3" font-size="17.5">-1</tspan><tspan dy="10.3">)</tspan></text>
<g class="xl"><text x="104.3" y="1183">0–20</text><text x="196.4" y="1183">20–40</text><text x="323.4" y="1183">0–20</text><text x="415.5" y="1183">20–40</text><text x="536.5" y="1183">0–20</text><text x="628.5" y="1183">20–40</text><text x="755.7" y="1183">0–20</text><text x="847.8" y="1183">20–40</text><text x="139.5" y="1210.7">Preplant</text><text x="384.3" y="1210.7">AT<tspan font-size="16" dx="-0.6" dy="7">30d</tspan></text><text x="581.4" y="1210.7">AT<tspan font-size="16" dx="-0.6" dy="7">60d</tspan></text><text x="790.3" y="1210.7">harvest</text></g>
<g class="xl"><text x="1063.1" y="1183">0–20</text><text x="1155.2" y="1183">20–40</text><text x="1282.2" y="1183">0–20</text><text x="1374.3" y="1183">20–40</text><text x="1495.3" y="1183">0–20</text><text x="1587.3" y="1183">20–40</text><text x="1714.5" y="1183">0–20</text><text x="1806.6" y="1183">20–40</text><text x="1098.3" y="1210.7">Preplant</text><text x="1343.1" y="1210.7">AT<tspan font-size="16" dx="-0.6" dy="7">30d</tspan></text><text x="1540.2" y="1210.7">AT<tspan font-size="16" dx="-0.6" dy="7">60d</tspan></text><text x="1749.1" y="1210.7">harvest</text></g>
</svg></body></html>
